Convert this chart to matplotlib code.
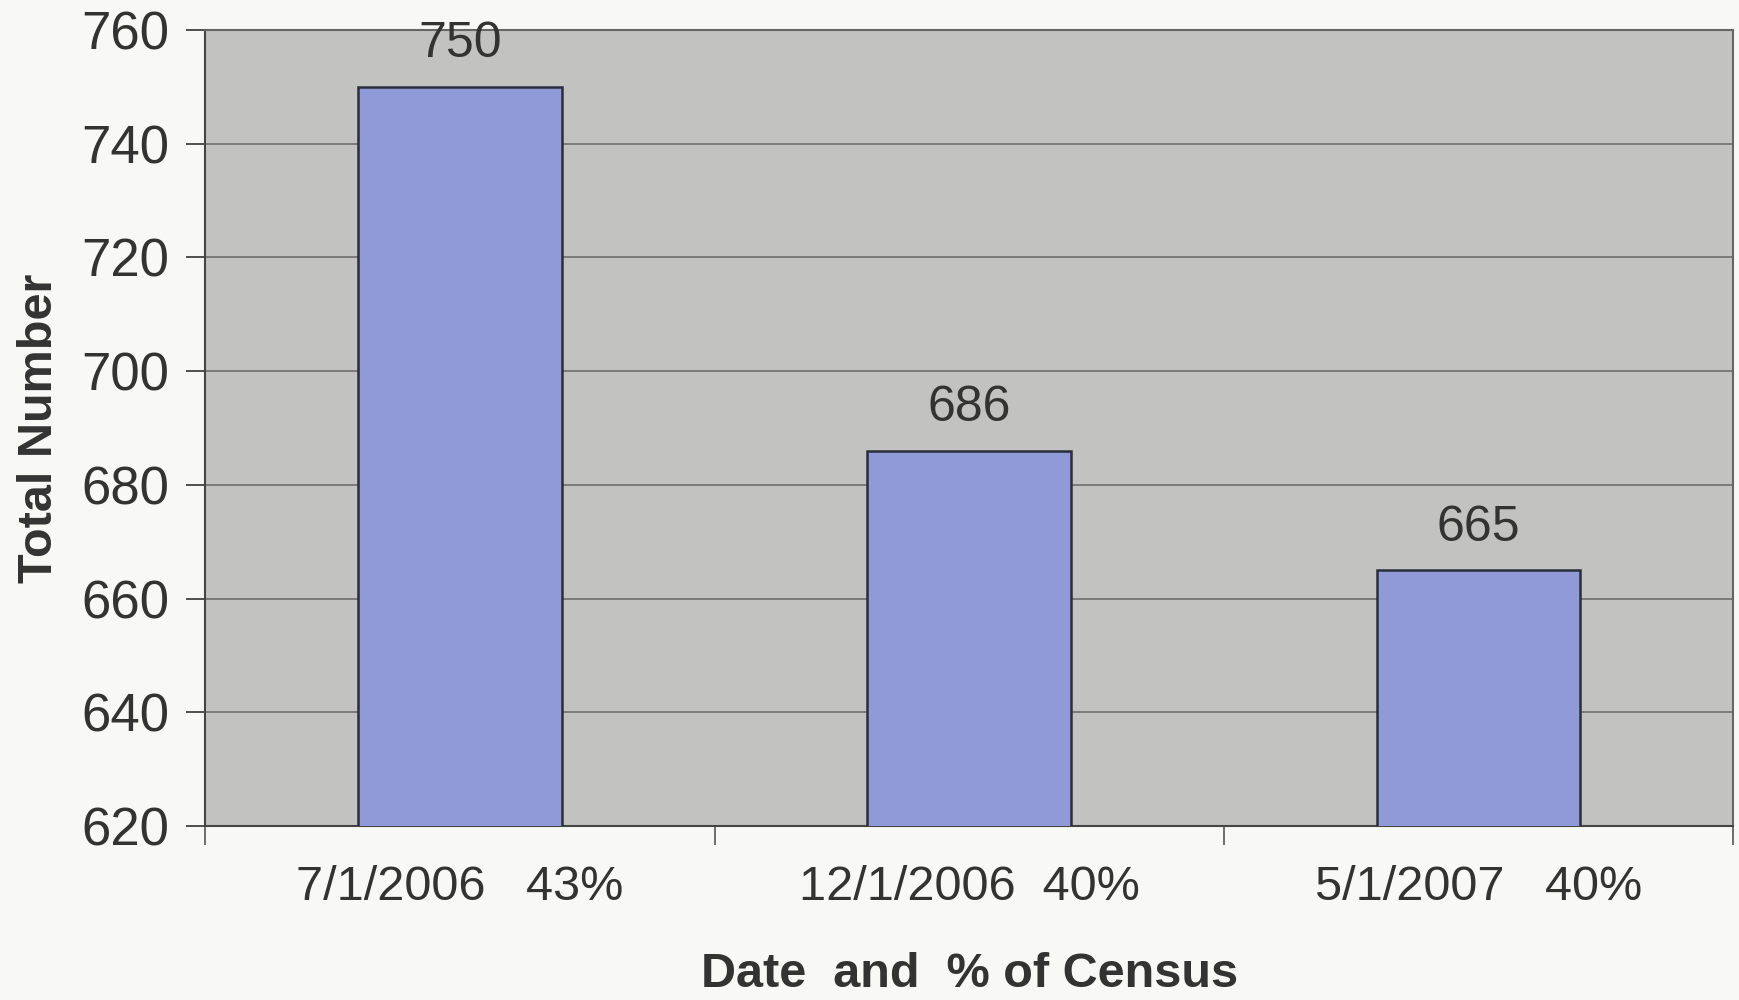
import matplotlib
matplotlib.use("Agg")
import matplotlib.pyplot as plt

# ── Data ──────────────────────────────────────────────────────────────────────
categories = ["7/1/2006   43%", "12/1/2006  40%", "5/1/2007   40%"]
totals     = [750, 686, 665]
y_ticks    = [620, 640, 660, 680, 700, 720, 740, 760]

BAR_FILL  = "#8f9ad6"
BAR_EDGE  = "#2b2d3c"
PLOT_BG   = "#c2c2c0"
FIG_BG    = "#f8f8f6"
GRID      = "#6e6e6e"
TEXT      = "#333333"

plt.rcParams["font.family"] = ["Liberation Sans", "DejaVu Sans"]

fig = plt.figure(figsize=(17.4, 10), dpi=100, facecolor=FIG_BG)
ax = fig.add_axes([0.118, 0.174, 0.878, 0.796])
ax.set_facecolor(PLOT_BG)

x = list(range(len(categories)))
bars = ax.bar(x, totals, width=0.40, color=BAR_FILL, edgecolor=BAR_EDGE,
              linewidth=1.8, zorder=3)

ax.set_xlim(-0.5, len(categories) - 0.5)
ax.set_ylim(620, 760)
ax.set_yticks(y_ticks)
ax.tick_params(axis="y", labelsize=38, colors=TEXT, length=14, width=1.2,
               direction="out", pad=12)
ax.yaxis.grid(True, color=GRID, linewidth=1.2, zorder=1)

# category ticks sit between the bars
ax.set_xticks(x)
ax.set_xticklabels(categories)
ax.tick_params(axis="x", which="major", length=0, labelsize=35,
               colors=TEXT, pad=28)
ax.set_xticks([i - 0.5 for i in range(len(categories) + 1)], minor=True)
ax.tick_params(axis="x", which="minor", length=14, width=1.2,
               direction="out", color="#555555")

for s in ax.spines.values():
    s.set_color("#666666")
    s.set_linewidth(1.5)
ax.spines["left"].set_color("#444444")
ax.spines["bottom"].set_color("#444444")

for b, v in zip(bars, totals):
    ax.annotate(f"{v}", xy=(b.get_x() + b.get_width() / 2, v),
                xytext=(0, 14), textcoords="offset points",
                ha="center", va="bottom", fontsize=36, color=TEXT)

ax.set_ylabel("Total Number", fontsize=35, fontweight="bold", color=TEXT,
              labelpad=14)
ax.set_xlabel("Date  and  % of Census", fontsize=35, fontweight="bold",
              color=TEXT, labelpad=30)

fig.savefig("out.png", dpi=100, facecolor=FIG_BG)
